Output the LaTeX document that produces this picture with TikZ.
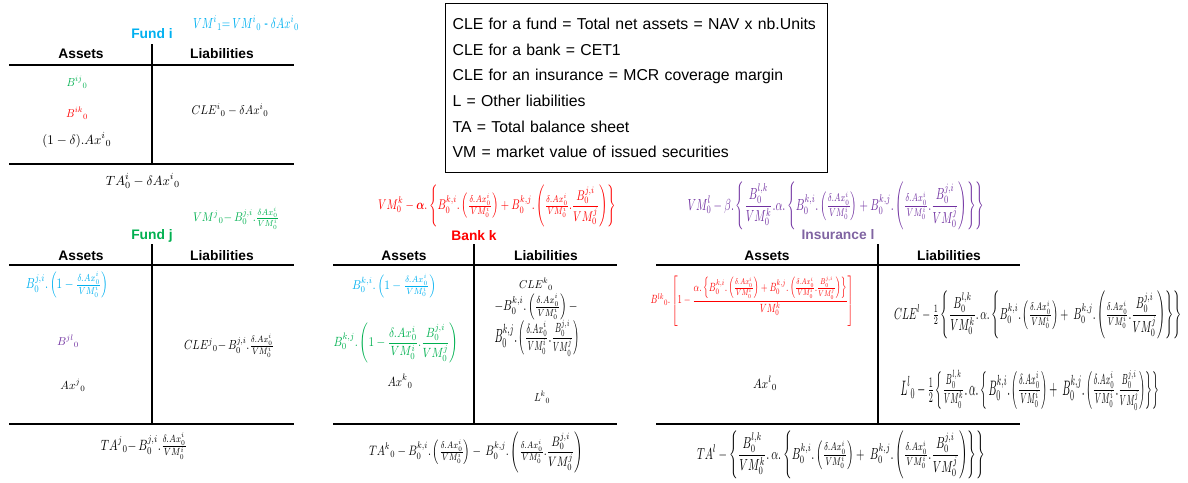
\documentclass[tikz,border=0pt]{standalone}
\usepackage[no-math]{fontspec}
\setmainfont{Liberation Sans}
\usepackage{amsmath}
\usepackage{graphicx}
\definecolor{cfund}{HTML}{00B0F0}
\definecolor{cgreen}{HTML}{00B050}
\definecolor{cred}{HTML}{FF0000}
\definecolor{cpurp}{HTML}{7030A0}
\definecolor{cpurpt}{HTML}{8064A2}
\newcommand{\mw}[3]{\resizebox*{#1pt}{#2pt}{$\displaystyle #3$}}
\newcommand{\dfi}{\tfrac{\delta.Ax^{i}_{0}}{VM^{i}_{0}}}
\newcommand{\bjv}{\frac{B^{j,i}_{0}}{VM^{j}_{0}}}
\newcommand{\bjvs}{\tfrac{B^{j,i}_{0}}{VM^{j}_{0}}}
\begin{document}
\begin{tikzpicture}[x=1pt,y=-1pt,
  hdr/.style={font=\fontsize{13.8}{16}\selectfont\bfseries, inner sep=0pt},
  ttl/.style={font=\fontsize{13.8}{16}\selectfont\bfseries, inner sep=0pt},
  rule/.style={line width=1.6pt},
  frm/.style={inner sep=0pt}]
\useasboundingbox (0,0) rectangle (1188,482);

% ---------- Legend ----------
\node[draw, line width=1.2pt, anchor=north west, minimum height=169pt,
      text width=368pt, inner xsep=7pt, align=left,
      font=\fontsize{15.8}{25.7}\selectfont] (legend) at (445,3)
 {CLE for a fund = Total net assets = NAV x nb.Units\\
  CLE for a bank = CET1\\
  CLE for an insurance = MCR coverage margin\\
  L = Other liabilities\\
  TA = Total balance sheet\\
  VM = market value of issued securities};

% ---------- Fund i ----------
\node[frm, text=cfund] (vmi) at (246,23) {\mw{106}{15}{VM^{i}{}_{1}{=}\,VM^{i}{}_{0}\text{ - }\delta Ax^{i}{}_{0}}};
\node[ttl, text=cfund] (fundi) at (152,34) {Fund i};
\node[hdr] (ai) at (81,54) {Assets};
\node[hdr] (li) at (222,54) {Liabilities};
\draw[rule] (9,65) -- (294,65);
\draw[rule] (9,164) -- (294,164);
\draw[rule] (152,44) -- (152,164);
\node[frm, text=cgreen] (bij) at (77,82) {\mw{21}{12}{B^{ij}{}_{0}}};
\node[frm, text=cred] (bik) at (77,113) {\mw{22}{12}{B^{ik}{}_{0}}};
\node[frm] (axi) at (77,140) {\mw{69}{15}{(1-\delta).Ax^{i}{}_{0}}};
\node[frm] (clei) at (230,110) {\mw{77}{13}{CLE^{i}{}_{0}-\delta Ax^{i}{}_{0}}};
\node[frm] (tai) at (143,181) {\mw{74}{15}{TA^{i}_{0}-\delta Ax^{i}{}_{0}}};

% ---------- Fund j ----------
\node[frm, text=cgreen] (vmj) at (236,218) {\mw{86}{22}{VM^{j}{}_{0}{-}\,B^{j,i}_{0}.\tfrac{\delta Ax^{i}_{0}}{VM^{i}_{0}}}};
\node[ttl, text=cgreen] (fundj) at (152,236) {Fund j};
\node[hdr] (aj) at (81,256) {Assets};
\node[hdr] (lj) at (222,256) {Liabilities};
\draw[rule] (9,265) -- (294,265);
\draw[rule] (9,424) -- (294,424);
\draw[rule] (152,244) -- (152,424);
\node[frm, text=cfund] (bji) at (67,285) {\mw{82}{26}{B^{j,i}_{0}.\left(1-\dfi\right)}};
\node[frm, text=cpurp] (bjl) at (68,341) {\mw{22}{12}{B^{jl}{}_{0}}};
\node[frm] (axj) at (73,385) {\mw{25}{12}{Ax^{j}{}_{0}}};
\node[frm] (clej) at (229,346) {\mw{90}{23}{CLE^{j}{}_{0}{-}\,B^{j,i}_{0}.\dfi}};
\node[frm] (taj) at (144,446) {\mw{86}{26}{TA^{j}{}_{0}{-}\,B^{j,i}_{0}.\dfi}};

% ---------- Bank k ----------
\node[frm, text=cred] (vmk) at (497,206) {\mw{238}{42}{VM^{k}_{0}-\boldsymbol{\alpha}.\left\{B^{k,i}_{0}.\left(\dfi\right)+B^{k,j}_{0}.\left(\dfi.\bjv\right)\right\}}};
\node[ttl, text=cred] (bankk) at (474,236) {Bank k};
\node[hdr] (ak) at (404,256) {Assets};
\node[hdr] (lk) at (546,256) {Liabilities};
\draw[rule] (333,265) -- (617,265);
\draw[rule] (333,424) -- (617,424);
\draw[rule] (474,244) -- (474,424);
\node[frm, text=cfund] (bki) at (394,286) {\mw{84}{23}{B^{k,i}_{0}.\left(1-\dfi\right)}};
\node[frm, text=cgreen] (bkj) at (396,343) {\mw{125}{40}{B^{k,j}_{0}.\left(1-\frac{\delta.Ax^{i}_{0}}{VM^{i}_{0}}.\bjv\right)}};
\node[frm] (axk) at (400,381) {\mw{25}{14}{Ax^{k}{}_{0}}};
\node[frm] (clek) at (536,284) {\mw{34}{12}{CLE^{k}{}_{0}}};
\node[frm] (clek2) at (536,307) {\mw{83}{26}{-B^{k,i}_{0}.\left(\dfi\right)-}};
\node[frm] (clek3) at (537,338) {\mw{85}{36}{B^{k,j}_{0}.\left(\dfi.\bjvs\right)}};
\node[frm] (lk0) at (542,397) {\mw{16}{12}{L^{k}{}_{0}}};
\node[frm] (tak) at (476,452) {\mw{214}{41}{TA^{k}{}_{0}-B^{k,i}_{0}.\left(\dfi\right)-\,B^{k,j}_{0}.\left(\dfi.\bjv\right)}};

% ---------- Insurance l ----------
\node[frm, text=cpurp] (vml) at (836,206) {\mw{297}{48}{VM^{l}_{0}-\beta.\left\{\frac{B^{l,k}_{0}}{VM^{k}_{0}}.\alpha.\left\{B^{k,i}_{0}.\left(\dfi\right)+B^{k,j}_{0}.\left(\dfi.\bjv\right)\right\}\right\}}};
\node[ttl, text=cpurpt] (insl) at (838,235) {Insurance l};
\node[hdr] (al) at (767,256) {Assets};
\node[hdr] (ll) at (949,256) {Liabilities};
\draw[rule] (656,265) -- (1020,265);
\draw[rule] (656,424) -- (1020,424);
\draw[rule] (878,244) -- (878,424);
\node[frm, text=cred] (blk) at (752,301) {\mw{203}{50}{B^{lk}{}_{0}.\left[1-\frac{\alpha.\left\{B^{k,i}_{0}.\left(\frac{\delta.Ax^{i}_{0}}{VM^{i}_{0}}\right)+B^{k,j}_{0}.\left(\frac{\delta.Ax^{i}_{0}}{VM^{i}_{0}}.\frac{B^{j,i}_{0}}{VM^{j}_{0}}\right)\right\}}{VM^{k}_{0}}\right]}};
\node[frm] (axl) at (765,383) {\mw{24}{14}{Ax^{l}{}_{0}}};
\node[frm] (clel) at (1038,315) {\mw{288}{48}{CLE^{l}-\tfrac{1}{2}\left\{\frac{B^{l,k}_{0}}{VM^{k}_{0}}.\,\alpha.\left\{B^{k,i}_{0}.\left(\dfi\right)+\ B^{k,j}_{0}.\left(\dfi.\bjv\right)\right\}\right\}}};
\node[frm] (ll0) at (1030,390) {\mw{259}{40}{L^{l}{}_{0}-\tfrac{1}{2}\left\{\tfrac{B^{l,k}_{0}}{VM^{k}_{0}}.\,\alpha.\left\{\,B^{k,i}_{0}.\left(\dfi\right)+\ B^{k,j}_{0}.\left(\dfi.\bjvs\right)\right\}\right\}}};
\node[frm] (tal) at (841,455) {\mw{288}{48}{TA^{l}-\left\{\frac{B^{l,k}_{0}}{VM^{k}_{0}}.\,\alpha.\left\{B^{k,i}_{0}.\left(\dfi\right)+\ B^{k,j}_{0}.\left(\dfi.\bjv\right)\right\}\right\}}};
\end{tikzpicture}
\end{document}
